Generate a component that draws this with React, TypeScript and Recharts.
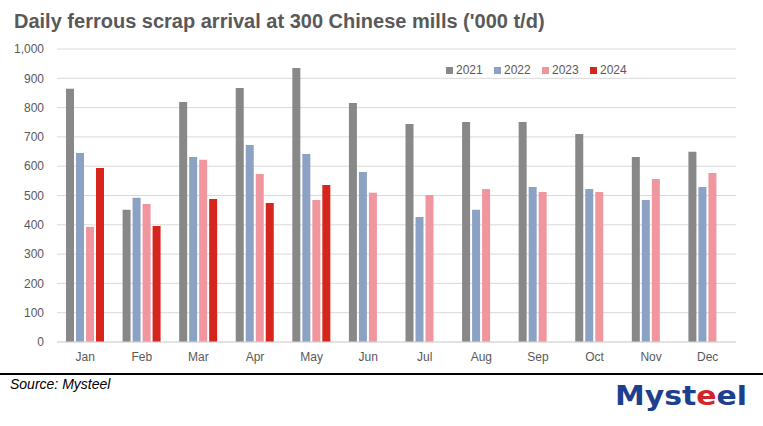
import React from 'react';
import { BarChart, Bar, XAxis, YAxis, CartesianGrid } from 'recharts';

const months = ['Jan', 'Feb', 'Mar', 'Apr', 'May', 'Jun', 'Jul', 'Aug', 'Sep', 'Oct', 'Nov', 'Dec'];
const y2021 = [864, 451, 819, 867, 935, 816, 744, 751, 751, 710, 631, 649];
const y2022 = [645, 492, 631, 672, 642, 580, 427, 451, 529, 522, 485, 529];
const y2023 = [393, 471, 622, 573, 485, 509, 502, 522, 512, 512, 556, 577];
const y2024 = [594, 396, 488, 474, 536, null, null, null, null, null, null, null];
const yTicks = [0, 100, 200, 300, 400, 500, 600, 700, 800, 900, 1000];

const series = [
  { key: '2021', color: '#888888' },
  { key: '2022', color: '#8ba2c4' },
  { key: '2023', color: '#f0969f' },
  { key: '2024', color: '#d5251c' },
];

const data = months.map((month, i) => ({
  month,
  '2021': y2021[i],
  '2022': y2022[i],
  '2023': y2023[i],
  '2024': y2024[i],
}));

const textColor = '#595959';
const font = '"Liberation Sans", Arial, sans-serif';

// legend sits inside the plot, top right, like the Excel original
const ChartLegend = () => (
  <div style={{ position: 'absolute', left: 446, top: 62, display: 'flex', fontSize: 12, lineHeight: '16px', color: textColor }}>
    {series.map((s) => (
      <div key={s.key} style={{ display: 'flex', alignItems: 'center', width: 48 }}>
        <span style={{ width: 7, height: 7, background: s.color, marginRight: 3, display: 'inline-block' }} />
        <span>{s.key}</span>
      </div>
    ))}
  </div>
);

const App: React.FC = () => {
  return (
    <div
      style={{
        position: 'absolute',
        top: 0,
        left: 0,
        width: 763,
        height: 426,
        background: '#fff',
        fontFamily: font,
        overflow: 'hidden',
      }}
    >
      <div
        style={{
          position: 'absolute',
          left: 14,
          top: 9,
          fontSize: 20,
          lineHeight: '24px',
          fontWeight: 'bold',
          color: textColor,
          whiteSpace: 'nowrap',
        }}
      >
        Daily ferrous scrap arrival at 300 Chinese mills ('000 t/d)
      </div>

      <div style={{ position: 'absolute', top: 0, left: 0 }}>
        <BarChart
          width={763}
          height={426}
          data={data}
          margin={{ top: 49, right: 27, left: 0, bottom: 64 }}
          barSize={8}
          barGap={2}
        >
          <CartesianGrid vertical={false} stroke="#d9d9d9" />
          <XAxis
            dataKey="month"
            height={20}
            tickLine={false}
            axisLine={{ stroke: '#d9d9d9' }}
            tickMargin={4}
            interval={0}
            tick={{ fontSize: 12, fill: textColor, fontFamily: font }}
          />
          <YAxis
            width={57}
            domain={[0, 1000]}
            ticks={yTicks}
            interval={0}
            axisLine={false}
            tickLine={false}
            tickMargin={7}
            tickFormatter={(v: number) => v.toLocaleString('en-US')}
            tick={{ fontSize: 12, fill: textColor, fontFamily: font }}
          />
          {series.map((s) => (
            <Bar key={s.key} dataKey={s.key} name={s.key} fill={s.color} isAnimationActive={false} />
          ))}
        </BarChart>
      </div>

      <ChartLegend />

      <div style={{ position: 'absolute', left: 0, top: 373, width: 763, height: 2, background: '#000' }} />
      <div
        style={{
          position: 'absolute',
          left: 10,
          top: 376,
          fontSize: 14,
          fontStyle: 'italic',
          color: '#000',
          lineHeight: '16px',
        }}
      >
        Source: Mysteel
      </div>
      <svg style={{ position: 'absolute', left: 612, top: 378 }} width={140} height={40}>
        <text
          x={3}
          y={27}
          fontSize={27}
          fontWeight="bold"
          fontFamily='"DejaVu Sans", sans-serif'
          textLength={132}
          lengthAdjust="spacingAndGlyphs"
          fill="#1d3f8e"
        >
          Myst<tspan fill="#d3232b">e</tspan>el
        </text>
      </svg>
    </div>
  );
};

export default App;
